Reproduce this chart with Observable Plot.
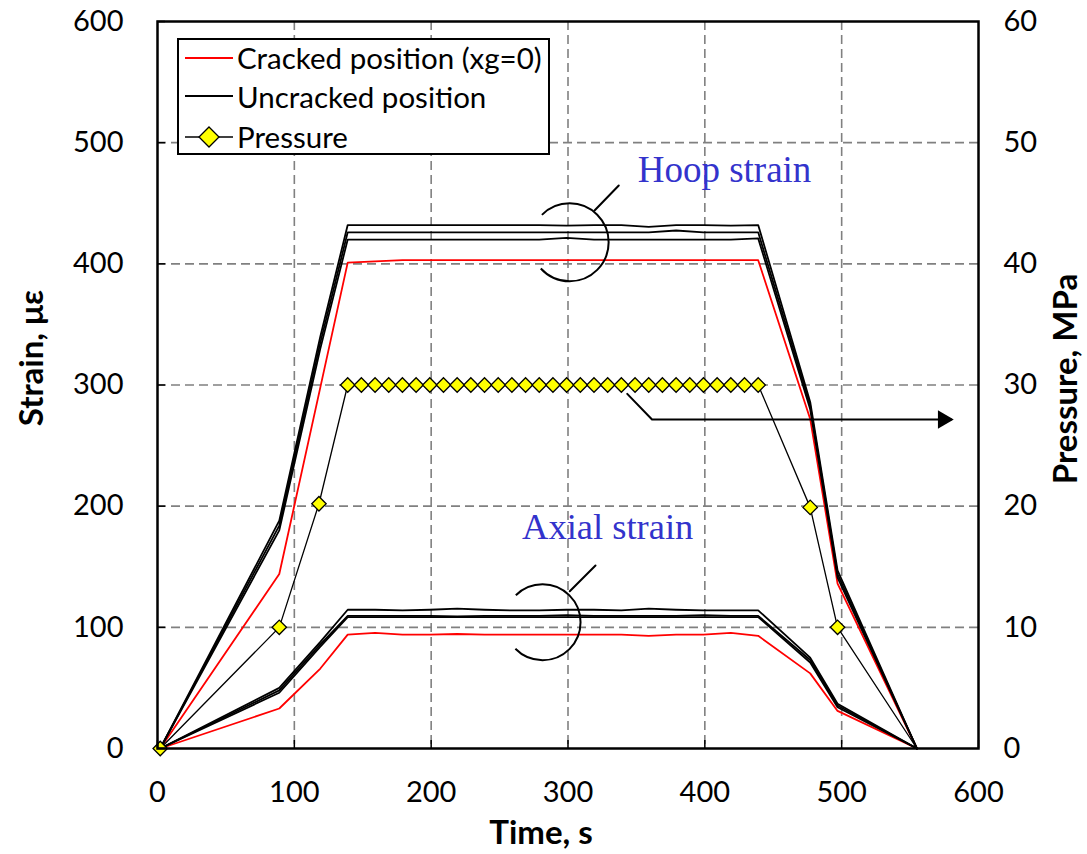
<!DOCTYPE html>
<html><head><meta charset="utf-8">
<script src="https://cdn.jsdelivr.net/npm/d3@7"></script>
<script src="https://cdn.jsdelivr.net/npm/@observablehq/plot@0.6"></script>
<style>
body{margin:0;background:#fff;}
#wrap{position:relative;width:1087px;height:854px;font-family:Lato,sans-serif;}
#legend{position:absolute;left:177px;top:38px;width:373px;height:117px;box-sizing:border-box;border:2px solid #000;background:#fff;}
.row{position:absolute;left:0;height:30px;display:flex;align-items:center;font-size:29.5px;white-space:nowrap;}
.row svg{margin-left:6px;margin-right:4px;}
</style></head><body><div id="wrap"></div>
<script>
// ---- data ----
const strainTime      = [2, 89, 119, 139, 159, 179, 199, 219, 239, 259, 279, 299, 319, 339, 359, 379, 399, 419, 439, 477, 497, 555];
const hoopCracked     = [0, 144, 298, 401, 402, 403, 403, 403, 403, 403, 403, 403, 403, 403, 403, 403, 403, 403, 403, 272, 136, 0];
const hoopUncracked1  = [0, 188, 340, 432, 432, 432, 432, 432, 432, 432, 432, 431.5, 432, 432, 430.5, 432, 432, 431.5, 432, 286, 147, 0];
const hoopUncracked2  = [0, 184, 335, 426, 426, 426, 426, 426, 426, 426, 426, 426, 426, 426, 426, 427.5, 426, 426, 426, 283, 144, 0];
const hoopUncracked3  = [0, 180, 330, 420, 420, 420, 420, 420, 420, 420, 420, 421.5, 420, 420, 420, 420, 420, 420, 421, 280, 141, 0];
const axialCracked    = [0, 33, 66, 94, 95.5, 94, 94, 94.5, 94, 94, 94, 94, 94, 94, 93, 94, 94, 95.5, 93, 62, 31, 0];
const axialUncracked1 = [0, 50, 88, 114.5, 114.5, 114, 114.5, 115.5, 114.5, 114, 114, 114.5, 114.5, 114, 115.5, 114.5, 114, 114, 114, 75, 37, 0];
const axialUncracked2 = [0, 48, 86, 109.5, 109.5, 109.5, 109.5, 109, 109.5, 109.5, 109.5, 110, 109.5, 109.5, 109.5, 109.5, 110, 109.5, 109.5, 73, 35.5, 0];
const axialUncracked3 = [0, 46, 84, 108.5, 108.5, 108.5, 108.5, 108.5, 108.5, 108.5, 108.5, 108.5, 108.5, 108.5, 108.5, 108.5, 108.5, 108.5, 108.5, 71, 34, 0];

const pressureTime = [2, 89, 118, 139, 149, 159, 169, 179, 189, 199, 209, 219, 229, 239, 249, 259, 269, 279, 289, 299, 309, 319, 329, 339, 349, 359, 369, 379, 389, 399, 409, 419, 429, 439, 477, 497, 555];
const pressure     = [0, 10, 20.2, 30, 30, 30, 30, 30, 30, 30, 30, 30, 30, 30, 30, 30, 30, 30, 30, 30, 30, 30, 30, 30, 30, 30, 30, 30, 30, 30, 30, 30, 30, 30, 19.9, 10, 0];

const xTicks = [0, 100, 200, 300, 400, 500, 600];
const yTicks = [0, 100, 200, 300, 400, 500, 600];
const pressureTicks = [0, 10, 20, 30, 40, 50, 60];
const gridTicks = [100, 200, 300, 400, 500];

const legendItems = ["Cracked position (xg=0)", "Uncracked position", "Pressure"];
const titles = {x: "Time, s", y: "Strain, με", y2: "Pressure, MPa"};
const hoopLabel = [{text: "Hoop strain", t: 414.4, v: 477}];
const axialLabel = [{text: "Axial strain", t: 329, v: 182.8}];
const hoopRing = [{t: 301.2, v: 417.8}];
const axialRing = [{t: 281.4, v: 104.2}];
const hoopPointer = [{t: 319.4, v: 444}, {t: 337.1, v: 464.6}];
const axialPointer = [{t: 301.3, v: 129.8}, {t: 320.1, v: 151}];
const pressurePointer = [{t: 343.3, v: 292.7}, {t: 361.4, v: 271.5}, {t: 580, v: 271.5}];
const pressureArrowHead = [{t: 574.2, v: 271.5}];

// ---- build tables ----
const P_SCALE = 10; // pressure axis 0-60 maps onto strain axis 0-600
const toRows = (arr, name) => arr.map((v, i) => ({t: strainTime[i], v, name}));
const redRows = [...toRows(hoopCracked, "hc"), ...toRows(axialCracked, "ac")];
const blackRows = [
  ...toRows(hoopUncracked1, "h1"), ...toRows(hoopUncracked2, "h2"), ...toRows(hoopUncracked3, "h3"),
  ...toRows(axialUncracked1, "a1"), ...toRows(axialUncracked2, "a2"), ...toRows(axialUncracked3, "a3")
];
const pRows = pressure.map((p, i) => ({t: pressureTime[i], v: p * P_SCALE}));
const pMarkers = pRows.slice(0, pRows.length - 1);

const blue = "#3333cc";
const serif = "'Liberation Serif', 'Times New Roman', serif";
const titleFont = 33;

const chart = Plot.plot({
  width: 1087, height: 854,
  marginLeft: 157, marginRight: 109, marginTop: 21, marginBottom: 106,
  style: {fontFamily: "Lato, sans-serif", fontSize: "29px", background: "#fff", color: "#000", overflow: "visible"},
  x: {domain: [0, 600]},
  y: {domain: [0, 600]},
  marks: [
    Plot.gridX(gridTicks, {stroke: "#808080", strokeOpacity: 1, strokeWidth: 1.6, strokeDasharray: "9,5"}),
    Plot.gridY(gridTicks, {stroke: "#808080", strokeOpacity: 1, strokeWidth: 1.6, strokeDasharray: "9,5"}),
    Plot.line(redRows, {x: "t", y: "v", z: "name", stroke: "#ff0000", strokeWidth: 1.8}),
    Plot.line(blackRows, {x: "t", y: "v", z: "name", stroke: "#000", strokeWidth: 1.8}),
    Plot.line(pRows, {x: "t", y: "v", stroke: "#000", strokeWidth: 1.3}),
    Plot.dot(pMarkers, {x: "t", y: "v", symbol: "diamond2", r: 6.5, fill: "#ffff00", stroke: "#000", strokeWidth: 1.3}),
    // annotations
    Plot.dot(hoopRing, {x: "t", y: "v", r: 39, fill: "none", stroke: "#000", strokeWidth: 2, strokeDasharray: "93.6 59.1 92.3"}),
    Plot.dot(axialRing, {x: "t", y: "v", r: 38, fill: "none", stroke: "#000", strokeWidth: 2, strokeDasharray: "89.8 59.4 89.6"}),
    Plot.line(hoopPointer, {x: "t", y: "v", stroke: "#000", strokeWidth: 2}),
    Plot.line(axialPointer, {x: "t", y: "v", stroke: "#000", strokeWidth: 2}),
    Plot.line(pressurePointer, {x: "t", y: "v", stroke: "#000", strokeWidth: 2}),
    Plot.dot(pressureArrowHead, {x: "t", y: "v", symbol: "triangle", rotate: 90, r: 6.8, fill: "#000", stroke: "none"}),
    Plot.text(hoopLabel, {x: "t", y: "v", text: "text", fill: blue, fontFamily: serif, fontSize: 37, lineAnchor: "middle"}),
    Plot.text(axialLabel, {x: "t", y: "v", text: "text", fill: blue, fontFamily: serif, fontSize: 36.5, lineAnchor: "middle"}),
    Plot.frame({stroke: "#000", strokeWidth: 2.5}),
    // axes
    Plot.axisX(xTicks, {tickSize: -8, tickPadding: 41, fontSize: 29, label: null, strokeWidth: 1.5}),
    Plot.axisY(yTicks, {tickSize: -8, tickPadding: 42, fontSize: 29, label: null, strokeWidth: 1.5}),
    Plot.axisY(yTicks, {anchor: "right", tickSize: 0, tickPadding: 25, fontSize: 29, label: null,
      tickFormat: (d) => String(d / P_SCALE)}),
    Plot.text([titles.y], {frameAnchor: "left", dx: -125, dy: -27, rotate: -90, textAnchor: "middle", lineAnchor: "middle", fontWeight: "bold", fontSize: titleFont}),
    Plot.text([titles.y2], {frameAnchor: "right", dx: 88, dy: -6, rotate: -90, textAnchor: "middle", lineAnchor: "middle", fontWeight: "bold", fontSize: titleFont}),
    Plot.text([titles.x], {frameAnchor: "bottom", dx: -27, dy: 85, textAnchor: "middle", lineAnchor: "middle", fontWeight: "bold", fontSize: titleFont})
  ]
});

const wrap = document.getElementById("wrap");
wrap.appendChild(chart);

// legend (inside plot area)
const legend = document.createElement("div");
legend.id = "legend";
const swatches = [
  `<svg width="48" height="20"><line x1="0" y1="10" x2="48" y2="10" stroke="#ff0000" stroke-width="1.8"/></svg>`,
  `<svg width="48" height="20"><line x1="0" y1="10" x2="48" y2="10" stroke="#000" stroke-width="1.8"/></svg>`,
  `<svg width="48" height="22"><line x1="0" y1="11" x2="48" y2="11" stroke="#000" stroke-width="1.5"/><path d="M24,1L34,11L24,21L14,11Z" fill="#ffff00" stroke="#000" stroke-width="1.3"/></svg>`
];
const rowTops = [2.7, 41, 81.7];
legendItems.forEach((label, i) => {
  const row = document.createElement("div");
  row.className = "row";
  row.style.top = rowTops[i] + "px";
  row.innerHTML = swatches[i] + `<span>${label}</span>`;
  legend.appendChild(row);
});
wrap.appendChild(legend);
</script>
</body></html>
